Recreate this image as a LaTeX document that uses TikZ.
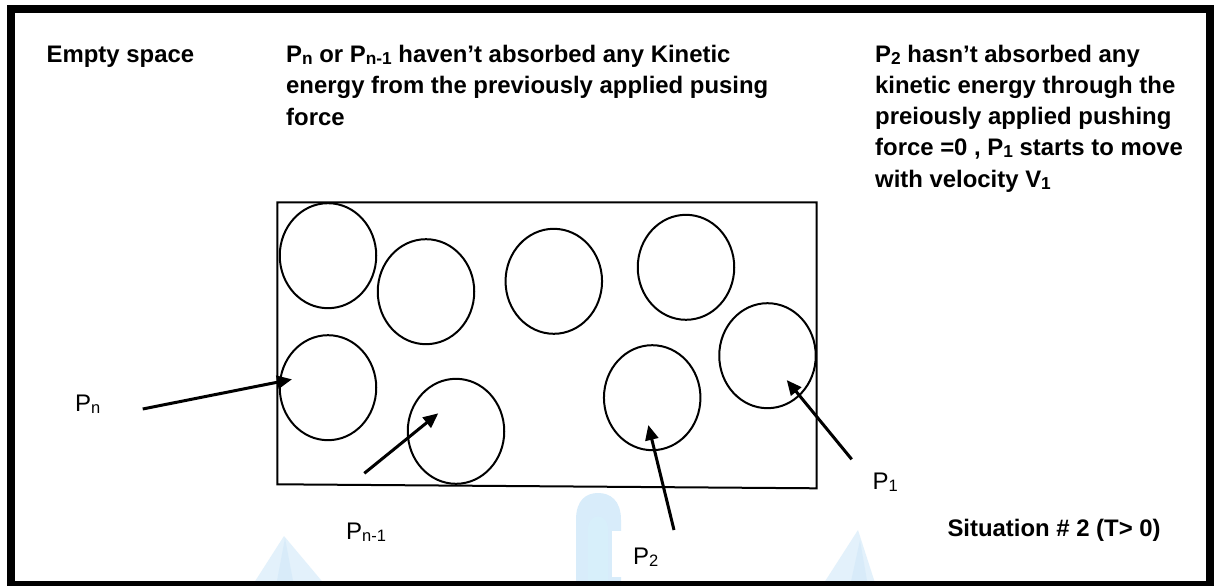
\documentclass[tikz,border=0pt]{standalone}
\usepackage{fontspec}
\setmainfont{Liberation Sans}
\usetikzlibrary{arrows.meta,shapes.geometric}
\definecolor{wmblue}{RGB}{200,228,248}
\definecolor{wmcyan}{RGB}{215,245,252}
\newcommand\lowsub[1]{\raisebox{-2pt}{\fontsize{17.3}{17.3}\selectfont #1}}
\newcommand\lowsubr[1]{\raisebox{-2pt}{\fontsize{16.5}{16.5}\selectfont #1}}
\tikzset{
  boldtext/.style={font=\fontsize{23.9}{31.2}\selectfont\bfseries, inner sep=0pt, anchor=base west, align=left},
  plaintext/.style={font=\fontsize{24}{28}\selectfont, inner sep=0pt, anchor=base west},
  ball/.style={ellipse, draw, line width=2pt, minimum width=96.5pt, minimum height=105pt, inner sep=0pt},
  pointer/.style={line width=3pt, -{Triangle[length=15pt,width=13pt]}},
}
\begin{document}
\begin{tikzpicture}[x=1pt,y=-1pt]
\useasboundingbox (0,0) rectangle (1216,586);
\fill[white] (0,0) rectangle (1216,586);
% faint watermark
\begin{scope}[opacity=0.4]
\fill[wmblue, opacity=0.5] (252,586) -- (284,536) -- (326,586) -- cycle;
\fill[wmblue] (276,586) -- (285,538) -- (294,586) -- cycle;
\fill[wmblue, opacity=0.7] (576,586) -- (576,520) .. controls (576,500) and (586,493) .. (598,493) .. controls (610,493) and (621,500) .. (621,520) -- (621,586) -- cycle;
\fill[wmcyan] (588,586) -- (588,530) .. controls (588,512) and (608,512) .. (608,530) -- (608,586) -- cycle;
\fill[wmblue, opacity=0.5] (822,586) -- (858,530) -- (876,586) -- cycle;
\fill[wmblue] (850,586) -- (860,540) -- (868,586) -- cycle;
\end{scope}
% outer frame
\draw[line width=8pt] (10.5,9) rectangle (1210,585);
% texts (multi-line nodes are anchored at the baseline of their last line)
\node[boldtext] (empty) at (46.5,62.7) {Empty space};
\node[boldtext] (mid) at (286,125.1) {P\lowsub{n} or P\lowsub{n-1} haven’t absorbed any Kinetic\\energy from the previously applied pusing\\force};
\node[boldtext] (right) at (875,187.1) {P\lowsub{2} hasn’t absorbed any\\kinetic energy through the\\preiously applied pushing\\force =0 , P\lowsub{1} starts to move\\with velocity V\lowsub{1}};
\node[boldtext] (situation) at (947.3,536.7) {Situation \# 2 (T> 0)};
% container
\draw[line width=2pt] (277.3,202.3) -- (816.7,202.3) -- (816.7,488.3) -- (277.3,484.3) -- cycle;
% particles
\node[ball] (c1) at (328,255.7) {};
\node[ball] (c2) at (426,291.7) {};
\node[ball] (c3) at (553.8,281.3) {};
\node[ball] (c4) at (686,267.3) {};
\node[ball] (cpn) at (328,387.7) {};
\node[ball] (cpn1) at (456,431.3) {};
\node[ball] (cp2) at (652.2,397.7) {};
\node[ball] (cp1) at (767.5,355.7) {};
% labels
\node[plaintext] (lpn) at (75,411.7) {P\lowsubr{n}};
\node[plaintext] (lpn1) at (346,539.3) {P\lowsubr{n-1}};
\fill[white] (612,531) rectangle (692,577);
\begin{scope}
\clip (612,531) rectangle (692,566.5);
\node[plaintext] (lp2) at (633,564.5) {P\lowsubr{2}};
\end{scope}
\node[plaintext] (lp1) at (872.5,489) {P\lowsubr{1}};
% arrows
\coordinate (tpn) at (142.7,409);
\coordinate (hpn) at (292,379.3);
\coordinate (tpn1) at (364.3,473.3);
\coordinate (hpn1) at (438.3,413.3);
\coordinate (tp2) at (674,530);
\coordinate (hp2) at (648.3,425);
\coordinate (tp1) at (851.7,459.3);
\coordinate (hp1) at (786.7,380);
\draw[pointer] (tpn) -- (hpn);
\draw[pointer] (tpn1) -- (hpn1);
\draw[pointer] (tp2) -- (hp2);
\draw[pointer] (tp1) -- (hp1);
\end{tikzpicture}
\end{document}
